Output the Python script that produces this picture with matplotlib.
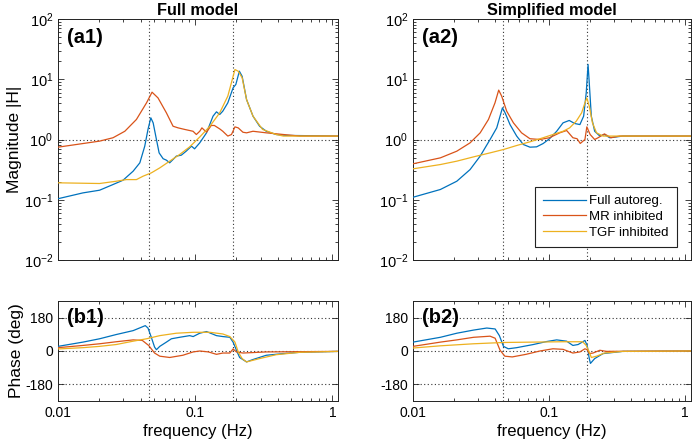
import matplotlib
matplotlib.use("Agg")
import matplotlib.pyplot as plt
from matplotlib.ticker import LogLocator, FixedLocator, NullFormatter

plt.rcParams['font.family'] = ['Liberation Sans', 'DejaVu Sans']
plt.rcParams['mathtext.fontset'] = 'custom'
plt.rcParams['mathtext.rm'] = 'Liberation Sans'

C_BLUE = '#0072BD'
C_RED = '#D95319'
C_YEL = '#EDB120'

LEGEND_LABELS = ['Full autoreg.', 'MR inhibited', 'TGF inhibited']
PANEL_TITLES = ['Full model', 'Simplified model']
MARK_FREQS = [0.046, 0.19]
PHASE_TICKS = [-180, 0, 180]
FREQ_TICKS = [0.01, 0.1, 1]
FREQ_TICK_LABELS = ['0.01', '0.1', '1']

# ---------- (a1) Full model magnitude ----------
a1_full_f = [0.01, 0.0152, 0.0201, 0.0252, 0.0298, 0.0353, 0.0395, 0.0429, 0.0453, 0.0475, 0.0494,
             0.0522, 0.0546, 0.0584, 0.0617, 0.0652, 0.069, 0.0729, 0.0793, 0.086, 0.094, 0.099,
             0.108, 0.121, 0.135, 0.143, 0.151, 0.159, 0.173, 0.189, 0.198, 0.21, 0.22, 0.237,
             0.264, 0.295, 0.33, 0.39, 0.46, 1.12]
a1_full_m = [0.104, 0.13, 0.144, 0.179, 0.211, 0.298, 0.41, 0.775, 1.47, 2.29, 1.89,
             1.0, 0.6, 0.48, 0.454, 0.41, 0.466, 0.53, 0.55, 0.64, 0.775, 0.70,
             0.88, 1.29, 2.44, 2.88, 2.6, 2.95, 4.06, 7.2, 8.2, 13.6, 11.2, 4.6,
             2.44, 1.66, 1.37, 1.21, 1.17, 1.14]

a1_mr_f = [0.01, 0.0201, 0.0252, 0.0307, 0.0373, 0.0442, 0.0485, 0.0536, 0.0617, 0.069, 0.0751,
           0.0838, 0.0965, 0.102, 0.108, 0.112, 0.121, 0.131, 0.138, 0.151, 0.159, 0.173,
           0.184, 0.195, 0.206, 0.223, 0.237, 0.264, 0.33, 0.44, 0.58, 1.12]
a1_mr_m = [0.746, 0.94, 1.07, 1.37, 2.15, 4.06, 6.1, 4.9, 2.77, 1.66, 1.56,
           1.47, 1.37, 1.21, 1.37, 1.56, 1.32, 1.71, 1.71, 1.50, 1.37, 1.14,
           1.21, 1.62, 1.56, 1.32, 1.29, 1.37, 1.29, 1.21, 1.14, 1.14]

a1_tgf_f = [0.01, 0.0201, 0.0266, 0.0315, 0.0373, 0.0417, 0.048, 0.0552, 0.0652, 0.077, 0.0912,
            0.108, 0.128, 0.151, 0.173, 0.195, 0.206, 0.22, 0.237, 0.264, 0.31, 0.39, 0.44, 1.12]
a1_tgf_m = [0.191, 0.186, 0.203, 0.216, 0.216, 0.246, 0.28, 0.338, 0.437, 0.563, 0.755,
            1.1, 1.66, 2.77, 5.25, 14.5, 13.6, 10.6, 4.6, 2.44, 1.47, 1.21, 1.14, 1.14]

# ---------- (a2) Simplified model magnitude ----------
a2_full_f = [0.01, 0.0159, 0.021, 0.0263, 0.0312, 0.0369, 0.0413, 0.0437, 0.0455, 0.0476, 0.0517,
             0.0579, 0.0648, 0.0725, 0.0811, 0.0907, 0.101, 0.114, 0.127, 0.141, 0.155, 0.169,
             0.18, 0.188, 0.194, 0.198, 0.205, 0.217, 0.237, 0.256, 0.28, 0.35, 1.12]
a2_full_m = [0.11, 0.148, 0.203, 0.317, 0.53, 1.0, 1.56, 2.44, 3.36, 2.77, 1.77,
             1.14, 0.826, 0.746, 0.755, 0.858, 1.03, 1.37, 1.89, 2.07, 1.84, 1.77,
             2.44, 5.9, 17.6, 8.7, 2.44, 1.37, 1.14, 1.21, 1.07, 1.14, 1.14]

a2_mr_f = [0.01, 0.0159, 0.021, 0.0263, 0.0312, 0.0359, 0.0401, 0.0427, 0.0449, 0.0489, 0.0548,
           0.0629, 0.0725, 0.0858, 0.101, 0.12, 0.135, 0.15, 0.161, 0.17, 0.184, 0.19,
           0.201, 0.217, 0.23, 0.256, 0.286, 0.33, 1.12]
a2_mr_m = [0.395, 0.496, 0.64, 0.88, 1.29, 2.15, 4.06, 6.6, 5.25, 2.95, 1.89,
           1.29, 1.03, 1.0, 1.07, 1.29, 1.41, 1.07, 1.03, 0.86, 1.0, 1.62,
           1.21, 1.0, 1.07, 1.24, 1.07, 1.14, 1.14]

a2_tgf_f = [0.01, 0.0159, 0.021, 0.0279, 0.0369, 0.0463, 0.0579, 0.0725, 0.0907, 0.107, 0.127,
            0.142, 0.159, 0.174, 0.184, 0.19, 0.198, 0.209, 0.224, 0.25, 0.35, 1.12]
a2_tgf_m = [0.326, 0.384, 0.437, 0.515, 0.6, 0.682, 0.795, 0.915, 1.07, 1.21, 1.37,
            1.56, 2.02, 2.77, 4.06, 4.9, 3.57, 1.89, 1.29, 1.14, 1.14, 1.14]

# ---------- (b1) Full model phase ----------
b1_full_f = [0.01, 0.0152, 0.0201, 0.0266, 0.0353, 0.0433, 0.0453, 0.0479, 0.0506, 0.0522, 0.0552,
             0.0617, 0.0671, 0.077, 0.0912, 0.0967, 0.108, 0.121, 0.143, 0.159, 0.179, 0.189,
             0.2, 0.211, 0.237, 0.264, 0.33, 0.44, 0.58, 1.12]
b1_full_p = [25, 48, 66, 89, 110, 137, 124, 74, 21, 7, 25,
             48, 66, 74, 83, 78, 96, 105, 83, 78, 74, 48,
             4, -35, -59, -46, -23, -14, -7, -2]

b1_mr_f = [0.01, 0.0152, 0.0201, 0.0266, 0.0353, 0.0412, 0.0458, 0.0506, 0.0552, 0.0652, 0.0813,
           0.0967, 0.108, 0.125, 0.143, 0.159, 0.179, 0.189, 0.2, 0.223, 0.33, 1.12]
b1_mr_p = [18, 30, 39, 50, 60, 57, 30, -11, -28, -35, -23,
           -5, 0, -5, -18, -11, -11, 11, -5, -11, -5, -2]

b1_tgf_f = [0.01, 0.0152, 0.0201, 0.0266, 0.0353, 0.0442, 0.0552, 0.0729, 0.0967, 0.128, 0.159,
            0.179, 0.195, 0.206, 0.22, 0.237, 0.295, 0.39, 0.58, 1.12]
b1_tgf_p = [11, 18, 25, 35, 53, 66, 83, 96, 101, 101, 92,
            78, 48, -5, -41, -59, -41, -20, -7, -2]

# ---------- (b2) Simplified model phase ----------
b2_full_f = [0.01, 0.0159, 0.021, 0.0279, 0.0349, 0.0402, 0.0432, 0.0463, 0.0502, 0.0579, 0.0768,
             0.096, 0.114, 0.135, 0.15, 0.164, 0.184, 0.191, 0.198, 0.202, 0.217, 0.25, 0.35, 1.12]
b2_full_p = [48, 74, 96, 113, 124, 119, 83, 25, 12, 18, 35,
             51, 60, 53, 30, 35, 57, 30, -41, -67, -41, -14, -2, 0]

b2_mr_f = [0.01, 0.0159, 0.021, 0.0279, 0.0369, 0.0402, 0.0437, 0.0474, 0.0537, 0.0678, 0.0858,
           0.107, 0.127, 0.15, 0.169, 0.184, 0.191, 0.198, 0.211, 0.237, 0.264, 1.12]
b2_mr_p = [25, 48, 60, 74, 80, 69, 4, -28, -32, -18, 0,
           12, 9, -11, -5, 12, 7, -14, -11, 4, -2, 0]

b2_tgf_f = [0.01, 0.0159, 0.0279, 0.0463, 0.0768, 0.127, 0.177, 0.188, 0.198, 0.205, 0.224, 0.256,
            0.35, 1.12]
b2_tgf_p = [16, 28, 39, 46, 48, 50, 50, 30, -5, -35, -28, -11, -2, 0]

mag_sets = [
    [(a1_full_f, a1_full_m), (a1_mr_f, a1_mr_m), (a1_tgf_f, a1_tgf_m)],
    [(a2_full_f, a2_full_m), (a2_mr_f, a2_mr_m), (a2_tgf_f, a2_tgf_m)],
]
phase_sets = [
    [(b1_full_f, b1_full_p), (b1_mr_f, b1_mr_p), (b1_tgf_f, b1_tgf_p)],
    [(b2_full_f, b2_full_p), (b2_mr_f, b2_mr_p), (b2_tgf_f, b2_tgf_p)],
]
colors = [C_BLUE, C_RED, C_YEL]
mag_labels = ['(a1)', '(a2)']
phase_labels = ['(b1)', '(b2)']

W, H = 692, 446
fig = plt.figure(figsize=(W / 100, H / 100), dpi=100)

def rect(x0, x1, y0, y1):
    return [x0 / W, 1 - y1 / H, (x1 - x0) / W, (y1 - y0) / H]

XLIM = (0.01, 1.1)
top_rects = [rect(58, 338, 19, 260), rect(413, 690.5, 19, 260)]
bot_rects = [rect(58, 338, 301, 401), rect(413, 690.5, 301, 401)]

grid_kw = dict(color='#333333', linestyle=(0, (1, 2.2)), linewidth=0.8, zorder=1)
LW = 0.9

def style(ax):
    ax.set_xscale('log')
    ax.set_xlim(*XLIM)
    ax.tick_params(which='both', direction='in', top=True, right=True, labelsize=10,
                   color='#222222', width=0.6)
    ax.tick_params(which='major', length=4)
    ax.tick_params(which='minor', length=2)
    for s in ax.spines.values():
        s.set_linewidth(0.7)
        s.set_color('#222222')
    ax.xaxis.set_major_locator(FixedLocator(FREQ_TICKS))
    ax.xaxis.set_minor_locator(LogLocator(base=10, subs=range(2, 10)))
    ax.xaxis.set_minor_formatter(NullFormatter())

for i in range(2):
    ax = fig.add_axes(top_rects[i])
    style(ax)
    ax.set_yscale('log')
    ax.set_ylim(1e-2, 1e2)
    ax.yaxis.set_major_locator(LogLocator(base=10, numticks=10))
    ax.yaxis.set_minor_locator(LogLocator(base=10, subs=range(2, 10), numticks=20))
    ax.yaxis.set_minor_formatter(NullFormatter())
    ax.tick_params(axis='y', labelsize=10.5)
    ax.set_xticklabels([])
    ax.axhline(1.0, **grid_kw)
    for fm in MARK_FREQS:
        ax.axvline(fm, **grid_kw)
    for (f, m), c, lab in zip(mag_sets[i], colors, LEGEND_LABELS):
        ax.plot(f, m, color=c, linewidth=LW, label=lab, zorder=3)
    ax.set_title(PANEL_TITLES[i], fontsize=11.7, fontweight='bold', pad=3)
    ax.text(0.033, 0.962, mag_labels[i], transform=ax.transAxes, fontsize=14.5,
            fontweight='bold', ha='left', va='top')
    if i == 0:
        ax.set_ylabel('Magnitude |H|', fontsize=12.5, labelpad=1)
    else:
        leg = ax.legend(loc='lower right', bbox_to_anchor=(0.951, 0.054), borderaxespad=0,
                        fontsize=9.5, handlelength=3.25, frameon=True, fancybox=False,
                        edgecolor='#222222', framealpha=1, borderpad=0.62,
                        labelspacing=0.27, handletextpad=0.25)
        leg.get_frame().set_linewidth(0.8)

for i in range(2):
    ax = fig.add_axes(bot_rects[i])
    style(ax)
    ax.set_ylim(-270, 270)
    ax.set_yticks(PHASE_TICKS)
    ax.set_yticklabels([str(t) for t in PHASE_TICKS])
    ax.set_xticklabels(FREQ_TICK_LABELS)
    for t in PHASE_TICKS:
        ax.axhline(t, **grid_kw)
    for fm in MARK_FREQS:
        ax.axvline(fm, **grid_kw)
    for (f, p), c in zip(phase_sets[i], colors):
        ax.plot(f, p, color=c, linewidth=LW, zorder=3)
    ax.text(0.033, 0.93, phase_labels[i], transform=ax.transAxes, fontsize=14.5,
            fontweight='bold', ha='left', va='top')
    ax.set_xlabel('frequency (Hz)', fontsize=12, labelpad=3)
    if i == 0:
        ax.set_ylabel('Phase (deg)', fontsize=12.5, labelpad=1)

fig.savefig('out.png', dpi=100)
